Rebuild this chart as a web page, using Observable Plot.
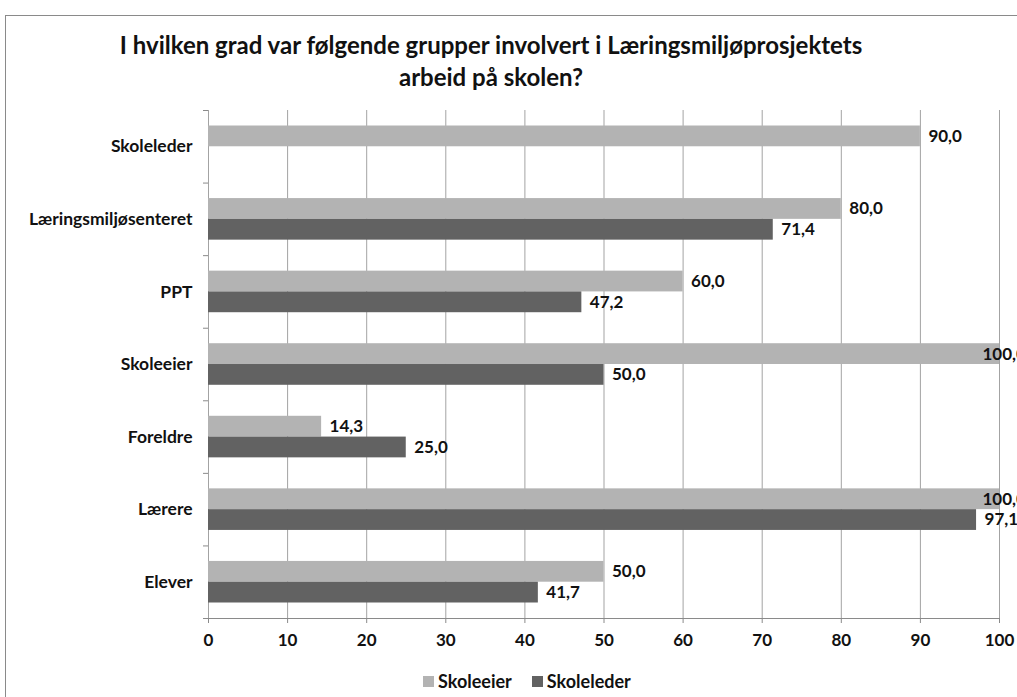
<!DOCTYPE html>
<html><head><meta charset="utf-8">
<script src="https://cdn.jsdelivr.net/npm/d3@7"></script>
<script src="https://cdn.jsdelivr.net/npm/@observablehq/plot@0.6"></script>
<style>
body{margin:0;background:#fff;font-family:Lato, sans-serif;}
#wrap{position:relative;width:1017px;height:697px;overflow:hidden;}
#frame{position:absolute;left:5px;top:15px;width:1100px;height:800px;border:1px solid #8a8a8a;box-sizing:border-box;pointer-events:none;}
#title{width:982px;padding-top:29px;height:66px;text-align:center;font-weight:bold;font-size:24px;line-height:32px;color:#111;}
#legend{height:32px;display:flex;align-items:center;padding-left:423px;font-weight:bold;font-size:18px;color:#111;}
#legend .item{display:flex;align-items:center;margin-right:20px;}
#legend .sw{width:11px;height:11px;margin-right:4px;}
</style></head><body>
<div id="wrap"><div id="frame"></div>
<div id="title">I hvilken grad var følgende grupper involvert i Læringsmiljøprosjektets<br>arbeid på skolen?</div>
<div id="chart"></div>
<div id="legend"></div>
</div>
<script>
const categories = ["Skoleleder","Læringsmiljøsenteret","PPT","Skoleeier","Foreldre","Lærere","Elever"];
const skoleeierValues = [90.0, 80.0, 60.0, 100.0, 14.3, 100.0, 50.0];
const skolelederValues = [null, 71.4, 47.2, 50.0, 25.0, 97.1, 41.7];
const seriesNames = ["Skoleeier", "Skoleleder"];
const seriesColors = ["#b3b3b3", "#626262"];
const xTicks = [0, 10, 20, 30, 40, 50, 60, 70, 80, 90, 100];

const rows = categories.map((c, i) => ({category: c, skoleeier: skoleeierValues[i], skoleleder: skolelederValues[i]}));
const eierRows = rows.filter(d => d.skoleeier != null);
const lederRows = rows.filter(d => d.skoleleder != null);
const fmt = v => v.toFixed(1).replace(".", ",");
const full = d => d >= 99.5;

const labelStyle = {textAnchor: "start", fill: "#111", fontWeight: "bold", fontSize: 17};

const chart = Plot.plot({
  width: 1017, height: 570,
  marginTop: 15, marginBottom: 47, marginLeft: 208, marginRight: 18,
  style: {fontFamily: "Lato, sans-serif", fontSize: "17px", fontWeight: "bold", color: "#111", background: "transparent"},
  x: {domain: [0, 100]},
  y: {domain: categories, padding: 0, round: false},
  marks: [
    Plot.gridX(xTicks, {stroke: "#a3a3a3", strokeOpacity: 1}),
    Plot.barX(eierRows, {x: "skoleeier", y: "category", fill: seriesColors[0], insetTop: 15.5, insetBottom: 36.3}),
    Plot.barX(lederRows, {x: "skoleleder", y: "category", fill: seriesColors[1], insetTop: 36.3, insetBottom: 15.5}),
    Plot.text(eierRows.filter(d => !full(d.skoleeier)), {x: "skoleeier", y: "category", text: d => fmt(d.skoleeier), dx: 8, dy: -10.4, ...labelStyle}),
    Plot.text(eierRows.filter(d => full(d.skoleeier)), {x: "skoleeier", y: "category", text: d => fmt(d.skoleeier), dx: -17, dy: -10.4, ...labelStyle}),
    Plot.text(lederRows, {x: "skoleleder", y: "category", text: d => fmt(d.skoleleder), dx: 8, dy: 10.4, ...labelStyle}),
    Plot.frame({anchor: "bottom", stroke: "#8a8a8a", insetLeft: -5}),
    Plot.axisY({tickSize: 5, tickFormat: () => "", dy: -36.28, stroke: "#8a8a8a", label: null}),
    Plot.axisY({tickSize: 0, tickPadding: 16, fill: "#111", label: null, fontSize: 17.5}),
    Plot.axisX(xTicks, {tickSize: 5, tickPadding: 10, stroke: "#8a8a8a", fill: "#111", label: null, fontSize: 17})
  ]
});
document.getElementById("chart").appendChild(chart);

const legend = document.getElementById("legend");
seriesNames.forEach((name, i) => {
  const item = document.createElement("div");
  item.className = "item";
  const sw = document.createElement("div");
  sw.className = "sw";
  sw.style.background = seriesColors[i];
  const label = document.createElement("span");
  label.textContent = name;
  item.appendChild(sw); item.appendChild(label);
  legend.appendChild(item);
});
</script>
</body></html>
